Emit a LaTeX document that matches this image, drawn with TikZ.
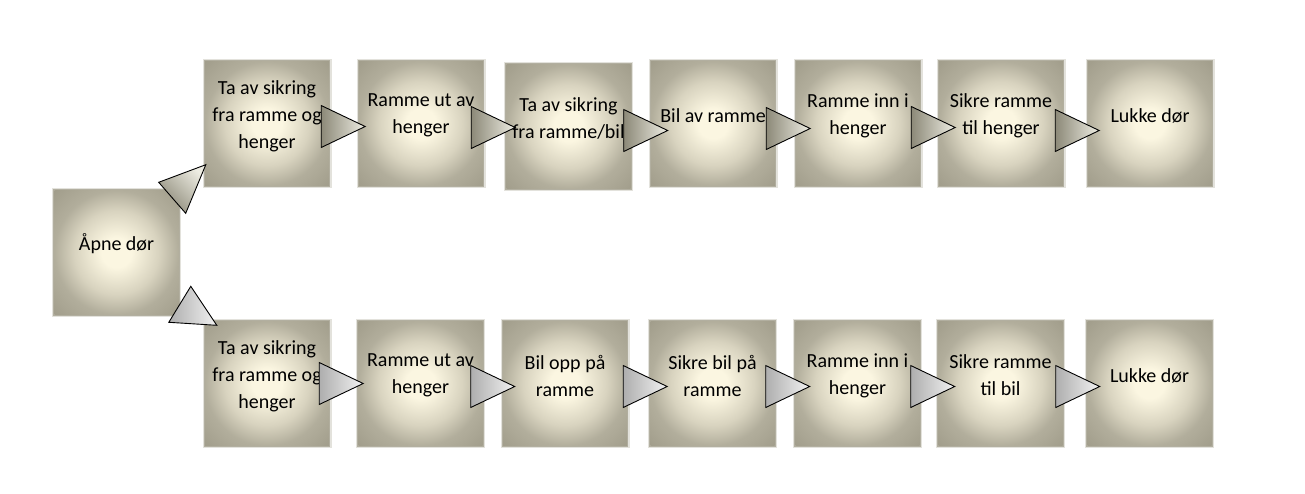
\documentclass[tikz,border=0pt]{standalone}
\usepackage{fontspec}
\setmainfont{Carlito}
\usetikzlibrary{calc,positioning,shadings}
\definecolor{boxin}{HTML}{FBF6E1}
\definecolor{boxmid}{HTML}{D8D3BF}
\definecolor{boxrim}{HTML}{B2AE9C}
\definecolor{boxout}{HTML}{A29E8C}
\definecolor{tridark}{HTML}{8C8978}
\definecolor{trilight}{HTML}{EEEDE3}
\definecolor{grydark}{HTML}{AEAEAE}
\definecolor{grylight}{HTML}{F2F2F2}
\pgfdeclareradialshading{boxglow}{\pgfpoint{0bp}{0bp}}{color(0bp)=(boxin); color(6bp)=(boxin); color(17bp)=(boxmid); color(25bp)=(boxrim); color(35bp)=(boxout); color(50bp)=(boxout)}
\tikzset{%
	stepbox/.style  = {rectangle, inner sep=0pt, minimum size=124pt, shade, shading=boxglow,
		preaction={draw=boxout, line width=5pt, opacity=.3},
		preaction={draw=boxout, line width=2.5pt, opacity=.75}}, % step box
	steptext/.style = {align=center, inner sep=0pt, font=\fontsize{20}{27}\selectfont}, % step text
	tri/.style      = {draw=black, line width=0.9pt}, % arrow triangle
	uptri/.style    = {tri, left color=tridark, right color=trilight},
	lowtri/.style   = {tri, left color=grydark, right color=grylight},
}

\begin{document}
\begin{tikzpicture}[x=1pt,y=-1pt,node distance=146pt]
	\useasboundingbox (0,0) rectangle (1305,493);
	\node [stepbox] (open) at (116.5,252.5) {};
	% upper row
	\node [stepbox] (u1) at (267,123.5) {};
	\node [stepbox] (u2) [right of=u1,node distance=154pt] {};
	\node [stepbox] (u3) [right of=u2,node distance=147.5pt,yshift=-3pt] {};
	\node [stepbox] (u4) [right of=u3,node distance=144.5pt,yshift=3pt] {};
	\node [stepbox] (u5) [right of=u4,node distance=145pt] {};
	\node [stepbox] (u6) [right of=u5,node distance=143pt] {};
	\node [stepbox] (u7) [right of=u6,node distance=149pt] {};
	% lower row
	\node [stepbox] (l1) [below of=u1,node distance=260pt] {};
	\node [stepbox] (l2) [right of=l1,node distance=153.5pt] {};
	\node [stepbox] (l3) [right of=l2,node distance=144.5pt] {};
	\node [stepbox] (l4) [right of=l3,node distance=147.5pt] {};
	\node [stepbox] (l5) [right of=l4,node distance=145pt] {};
	\node [stepbox] (l6) [right of=l5,node distance=143pt] {};
	\node [stepbox] (l7) [right of=l6,node distance=149pt] {};
	
	\node [steptext] (open-t) at ([yshift=9pt]open.center) {Åpne dør};
	\node [steptext] (u1-t) at ([yshift=7pt]u1.center) {Ta av sikring\\fra ramme og\\henger};
	\node [steptext] (u2-t) at ([yshift=8pt]u2.center) {Ramme ut av\\henger};
	\node [steptext] (u3-t) at ([yshift=8pt]u3.center) {Ta av sikring\\fra ramme/bil};
	\node [steptext] (u4-t) at ([yshift=8pt]u4.center) {Bil av ramme};
	\node [steptext] (u5-t) at ([yshift=8pt]u5.center) {Ramme inn i\\henger};
	\node [steptext] (u6-t) at ([yshift=8pt]u6.center) {Sikre ramme\\til henger};
	\node [steptext] (u7-t) at ([yshift=8pt]u7.center) {Lukke dør};
	\node [steptext] (l1-t) at ([yshift=7pt]l1.center) {Ta av sikring\\fra ramme og\\henger};
	\node [steptext] (l2-t) at ([yshift=8pt]l2.center) {Ramme ut av\\henger};
	\node [steptext] (l3-t) at ([yshift=8pt]l3.center) {Bil opp på\\ramme};
	\node [steptext] (l4-t) at ([yshift=8pt]l4.center) {Sikre bil på\\ramme};
	\node [steptext] (l5-t) at ([yshift=8pt]l5.center) {Ramme inn i\\henger};
	\node [steptext] (l6-t) at ([yshift=8pt]l6.center) {Sikre ramme\\til bil};
	\node [steptext] (l7-t) at ([yshift=8pt]l7.center) {Lukke dør};
	
	% connectors
	\path [tri, top color=trilight, bottom color=tridark, shading angle=-45]
		([xshift=-20pt,yshift=8pt]open.north east) -- ([xshift=1pt,yshift=21pt]u1.south west)
		-- ([xshift=7pt,yshift=-23pt]open.north east) -- cycle;
	\path [tri, left color=grydark, right color=grylight]
		([xshift=-36pt,yshift=-1pt]l1.north west) -- ([xshift=-14pt,yshift=35pt]l1.north west)
		-- ([xshift=12pt,yshift=-4pt]l1.north west) -- cycle;
	\path [uptri] ([xshift=-8pt,yshift=-3pt]u1.east) -- ++(0,-21) -- ++(44,21) -- ++(-44,21) -- cycle;
	\path [uptri] ([xshift=-12pt,yshift=-4pt]u2.east) -- ++(0,-21) -- ++(44,21) -- ++(-44,21) -- cycle;
	\path [uptri] ([xshift=-7pt,yshift=-4pt]u3.east) -- ++(0,-21) -- ++(44,21) -- ++(-44,21) -- cycle;
	\path [uptri] ([xshift=-9pt,yshift=-5pt]u4.east) -- ++(0,-21) -- ++(44,21) -- ++(-44,21) -- cycle;
	\path [uptri] ([xshift=-9pt,yshift=-4pt]u5.east) -- ++(0,-21) -- ++(44,21) -- ++(-44,21) -- cycle;
	\path [uptri] ([xshift=-8pt,yshift=-7pt]u6.east) -- ++(0,-21) -- ++(44,21) -- ++(-44,21) -- cycle;
	\path [lowtri] ([xshift=-10pt,yshift=0pt]l1.east) -- ++(0,-21) -- ++(44,21) -- ++(-44,21) -- cycle;
	\path [lowtri] ([xshift=-12pt,yshift=-3pt]l2.east) -- ++(0,-21) -- ++(44,21) -- ++(-44,21) -- cycle;
	\path [lowtri] ([xshift=-4pt,yshift=-3pt]l3.east) -- ++(0,-21) -- ++(44,21) -- ++(-44,21) -- cycle;
	\path [lowtri] ([xshift=-9pt,yshift=-3pt]l4.east) -- ++(0,-21) -- ++(44,21) -- ++(-44,21) -- cycle;
	\path [lowtri] ([xshift=-9pt,yshift=-3pt]l5.east) -- ++(0,-21) -- ++(44,21) -- ++(-44,21) -- cycle;
	\path [lowtri] ([xshift=-7pt,yshift=-3pt]l6.east) -- ++(0,-21) -- ++(44,21) -- ++(-44,21) -- cycle;
\end{tikzpicture}
\end{document}
